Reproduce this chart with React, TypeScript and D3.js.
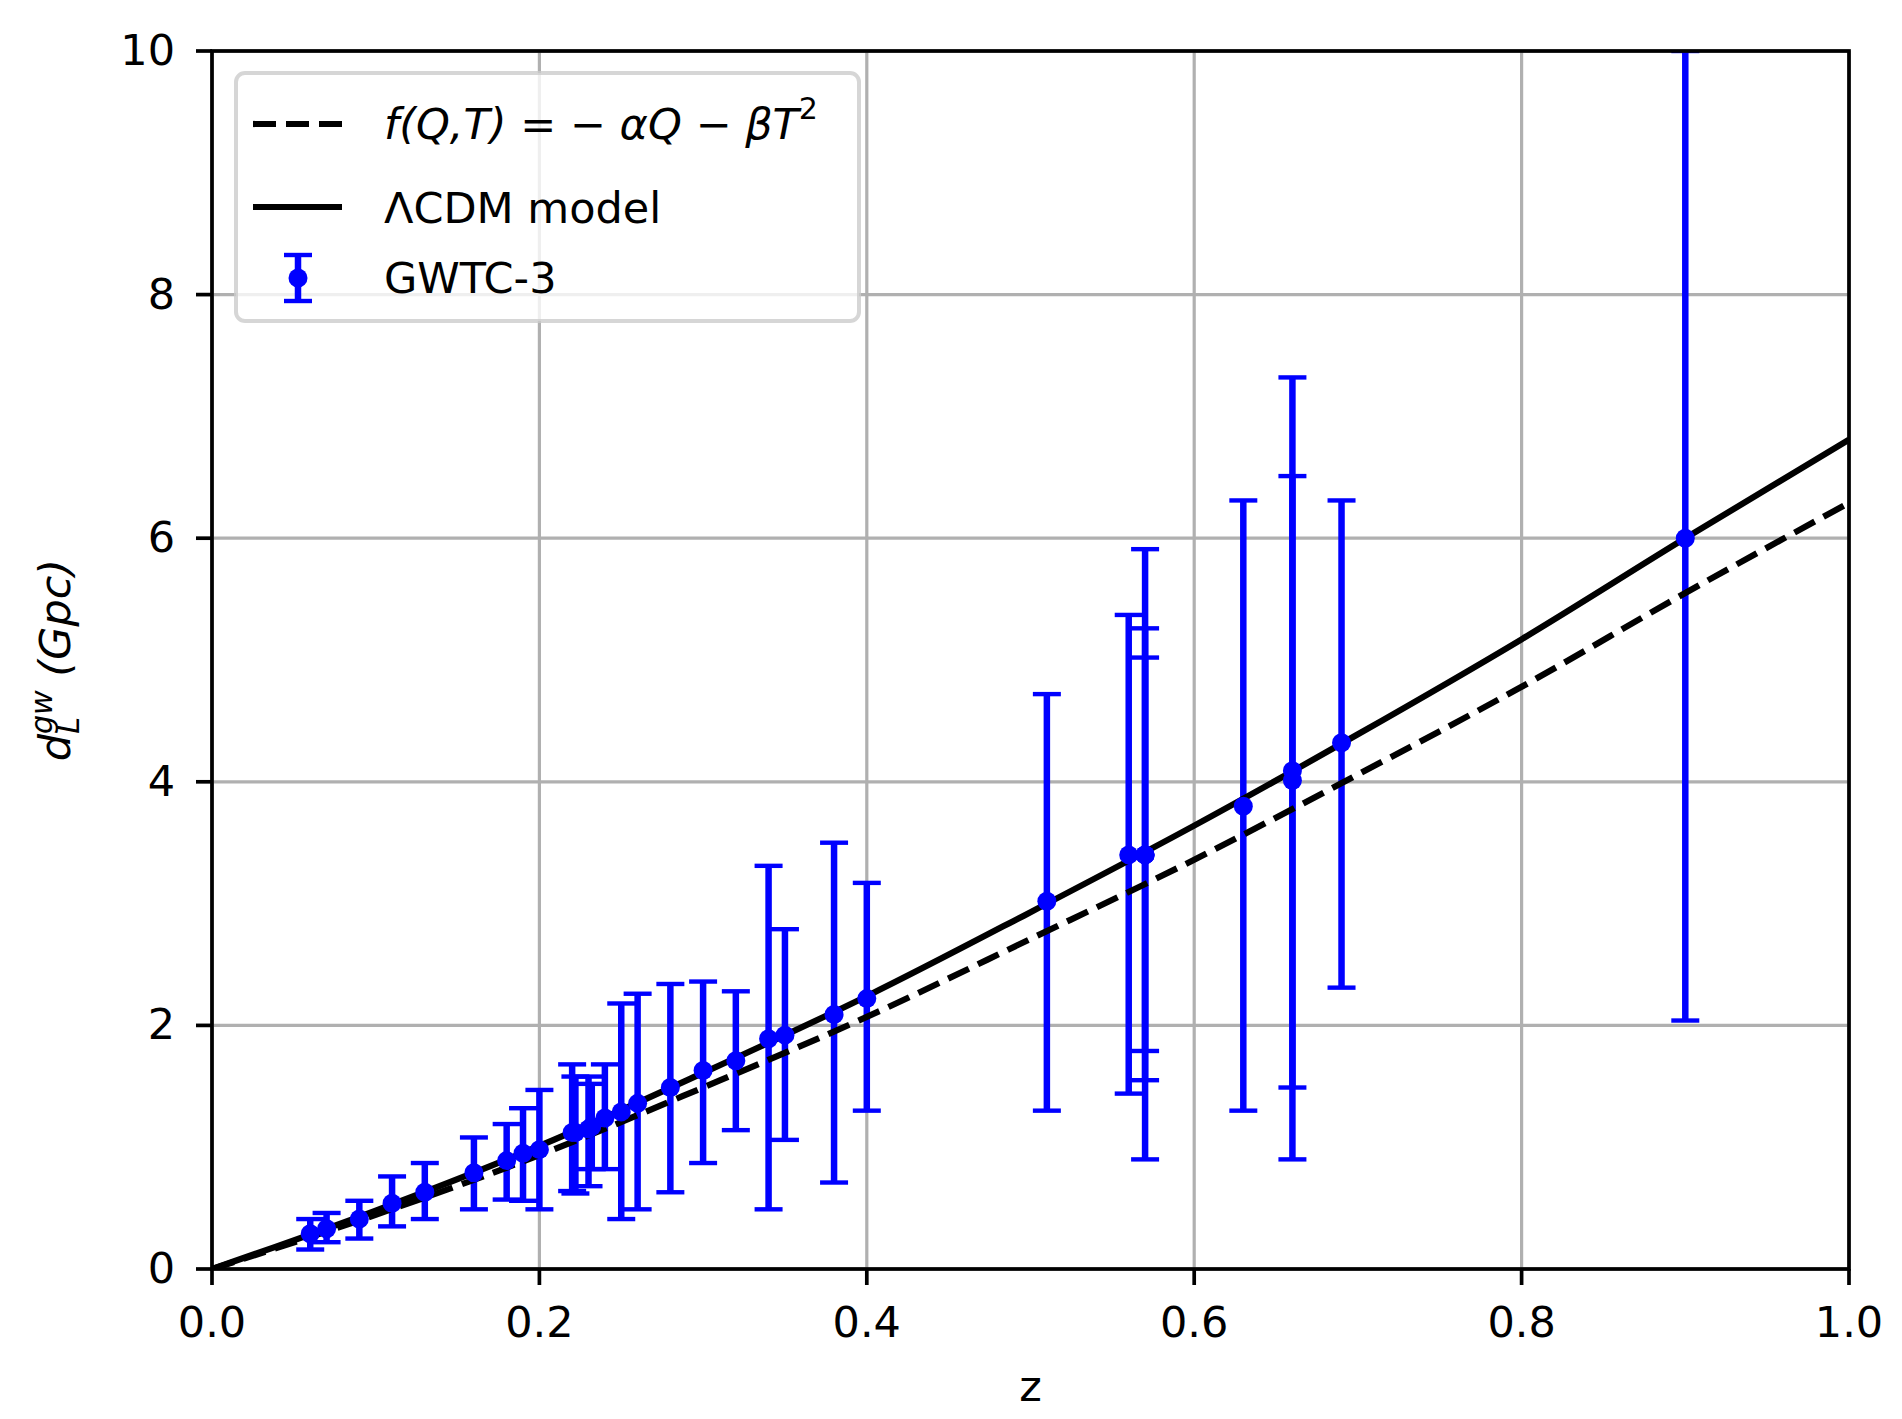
import {useMemo} from 'react'
import * as d3 from 'd3'

const WIDTH = 1902
const HEIGHT = 1419
const MARGIN = {top: 51, right: 53, bottom: 150, left: 212}
const FONT = '"DejaVu Sans", sans-serif'
const FS = 43

// GWTC-3 events: redshift, distance (Gpc) and the lower / upper end of each error bar
const eventZ = [
  0.06, 0.07, 0.09, 0.11, 0.13, 0.16, 0.18, 0.19, 0.2, 0.22, 0.222, 0.23, 0.232, 0.24, 0.25, 0.26, 0.28,
  0.3, 0.32, 0.34, 0.35, 0.38, 0.4, 0.51, 0.56, 0.57, 0.57, 0.57, 0.63, 0.66, 0.66, 0.69, 0.9,
]
const eventDl = [
  0.29, 0.33, 0.41, 0.54, 0.63, 0.79, 0.89, 0.95, 0.98, 1.12, 1.12, 1.15, 1.17, 1.24, 1.29, 1.36, 1.49,
  1.63, 1.71, 1.89, 1.92, 2.09, 2.22, 3.02, 3.4, 3.4, 3.4, 3.4, 3.8, 4.09, 4.01, 4.32, 6.0,
]
const eventLo = [
  0.16, 0.22, 0.25, 0.35, 0.41, 0.49, 0.57, 0.56, 0.49, 0.64, 0.62, 0.68, 0.82, 0.82, 0.41, 0.49, 0.63,
  0.87, 1.14, 0.49, 1.06, 0.71, 1.3, 1.3, 1.44, 0.9, 1.79, 1.55, 1.3, 0.9, 1.49, 2.31, 2.04,
]
const eventHi = [
  0.41, 0.46, 0.56, 0.76, 0.87, 1.08, 1.19, 1.32, 1.47, 1.68, 1.58, 1.58, 1.52, 1.68, 2.18, 2.26, 2.34,
  2.36, 2.28, 3.31, 2.79, 3.5, 3.17, 4.72, 5.37, 5.91, 5.26, 5.02, 6.31, 7.32, 6.51, 6.31, 10.0,
]

// model curves
const modelZ = [0, 0.1, 0.2, 0.3, 0.4, 0.5, 0.6, 0.7, 0.8, 0.9, 1.0]
const lcdmDl = [0, 0.48, 1.01, 1.61, 2.24, 2.93, 3.64, 4.39, 5.17, 6.0, 6.81]
const fqtDl = [0, 0.445, 0.935, 1.49, 2.07, 2.71, 3.36, 4.06, 4.78, 5.55, 6.29]

const xTicks = [0, 0.2, 0.4, 0.6, 0.8, 1.0]
const xTickLabels = ['0.0', '0.2', '0.4', '0.6', '0.8', '1.0']
const yTicks = [0, 2, 4, 6, 8, 10]
const yTickLabels = ['0', '2', '4', '6', '8', '10']

const BLUE = '#0000ff'
const LINE_W = 6.2
const DASH = '23 10'

export default function App() {
  const boundsWidth = WIDTH - MARGIN.left - MARGIN.right
  const boundsHeight = HEIGHT - MARGIN.top - MARGIN.bottom

  const xScale = useMemo(
    () => d3.scaleLinear().domain([0, 1]).range([MARGIN.left, MARGIN.left + boundsWidth]),
    [boundsWidth],
  )
  const yScale = useMemo(
    () => d3.scaleLinear().domain([0, 10]).range([MARGIN.top + boundsHeight, MARGIN.top]),
    [boundsHeight],
  )

  const line = d3
    .line<number>()
    .x((_, i) => xScale(modelZ[i]))
    .y(d => yScale(d))
    .curve(d3.curveMonotoneX)

  const capHalf = 14

  const legendX = 236
  const legendY = 73
  const rows = [124, 207, 277]
  const handleX0 = 253
  const handleX1 = 342
  const textX = 384

  return (
    <svg
      width={WIDTH}
      height={HEIGHT}
      style={{position: 'absolute', left: 0, top: 0, background: '#fff'}}
      fontFamily={FONT}>
      <defs>
        <clipPath id="plot-area">
          <rect x={MARGIN.left} y={MARGIN.top} width={boundsWidth} height={boundsHeight} />
        </clipPath>
      </defs>
      <rect width={WIDTH} height={HEIGHT} fill="#fff" />

      {/* grid */}
      <g stroke="#b0b0b0" strokeWidth={3.2}>
        {xTicks.map(t => (
          <line key={'gx' + t} x1={xScale(t)} x2={xScale(t)} y1={MARGIN.top} y2={MARGIN.top + boundsHeight} />
        ))}
        {yTicks.map(t => (
          <line key={'gy' + t} x1={MARGIN.left} x2={MARGIN.left + boundsWidth} y1={yScale(t)} y2={yScale(t)} />
        ))}
      </g>

      <g clipPath="url(#plot-area)">
        {/* error bars */}
        <g stroke={BLUE}>
          {eventZ.map((z, i) => (
            <g key={i}>
              <line x1={xScale(z)} x2={xScale(z)} y1={yScale(eventLo[i])} y2={yScale(eventHi[i])} strokeWidth={6.5} />
              <line
                x1={xScale(z) - capHalf}
                x2={xScale(z) + capHalf}
                y1={yScale(eventLo[i])}
                y2={yScale(eventLo[i])}
                strokeWidth={4.4}
              />
              <line
                x1={xScale(z) - capHalf}
                x2={xScale(z) + capHalf}
                y1={yScale(eventHi[i])}
                y2={yScale(eventHi[i])}
                strokeWidth={4.4}
              />
            </g>
          ))}
        </g>

        <path d={line(lcdmDl) ?? ''} fill="none" stroke="#000" strokeWidth={LINE_W} />
        <path d={line(fqtDl) ?? ''} fill="none" stroke="#000" strokeWidth={LINE_W} strokeDasharray={DASH} />

        <g fill={BLUE}>
          {eventZ.map((z, i) => (
            <circle key={i} cx={xScale(z)} cy={yScale(eventDl[i])} r={9.5} />
          ))}
        </g>
      </g>

      {/* spines */}
      <rect
        x={MARGIN.left}
        y={MARGIN.top}
        width={boundsWidth}
        height={boundsHeight}
        fill="none"
        stroke="#000"
        strokeWidth={3.7}
      />

      {/* ticks */}
      <g stroke="#000" strokeWidth={3.7}>
        {xTicks.map(t => (
          <line key={'tx' + t} x1={xScale(t)} x2={xScale(t)} y1={MARGIN.top + boundsHeight} y2={MARGIN.top + boundsHeight + 16} />
        ))}
        {yTicks.map(t => (
          <line key={'ty' + t} x1={MARGIN.left - 16} x2={MARGIN.left} y1={yScale(t)} y2={yScale(t)} />
        ))}
      </g>
      <g fontSize={FS} fill="#000">
        {xTicks.map((t, i) => (
          <text key={'lx' + t} x={xScale(t)} y={1337} textAnchor="middle">
            {xTickLabels[i]}
          </text>
        ))}
        {yTicks.map((t, i) => (
          <text key={'ly' + t} x={175} y={yScale(t) + 14} textAnchor="end">
            {yTickLabels[i]}
          </text>
        ))}
      </g>

      {/* axis labels */}
      <text x={MARGIN.left + boundsWidth / 2} y={1401} fontSize={FS} textAnchor="middle">
        z
      </text>
      <g transform={`translate(70, ${MARGIN.top + boundsHeight / 2}) rotate(-90)`}>
        <text x={0} y={0} fontSize={FS} textAnchor="middle" fontStyle="italic">
          <tspan>d</tspan>
          <tspan fontSize={FS * 0.7} dy={9}>
            L
          </tspan>
          <tspan fontSize={FS * 0.7} dx={-17} dy={-27}>
            gw
          </tspan>
          <tspan dy={18}> (Gpc)</tspan>
        </text>
      </g>

      {/* legend */}
      <g>
        <rect
          x={legendX}
          y={legendY}
          width={623}
          height={248}
          rx={9}
          fill="#fff"
          fillOpacity={0.8}
          stroke="#cccccc"
          strokeOpacity={0.8}
          strokeWidth={4}
        />
        <line x1={handleX0} x2={handleX1} y1={rows[0]} y2={rows[0]} stroke="#000" strokeWidth={LINE_W} strokeDasharray={DASH} />
        <line x1={handleX0} x2={handleX1} y1={rows[1]} y2={rows[1]} stroke="#000" strokeWidth={LINE_W} />
        <g stroke={BLUE}>
          <line x1={298} x2={298} y1={255} y2={301} strokeWidth={6.5} />
          <line x1={298 - capHalf} x2={298 + capHalf} y1={255} y2={255} strokeWidth={4.4} />
          <line x1={298 - capHalf} x2={298 + capHalf} y1={301} y2={301} strokeWidth={4.4} />
        </g>
        <circle cx={298} cy={278} r={9.5} fill={BLUE} />
        <text x={textX} y={rows[0] + 15} fontSize={FS}>
          <tspan fontStyle="italic">f</tspan>
          <tspan fontStyle="italic">(Q,T)</tspan>
          <tspan> = − </tspan>
          <tspan fontStyle="italic">αQ</tspan>
          <tspan> − </tspan>
          <tspan fontStyle="italic">βT</tspan>
          <tspan fontSize={FS * 0.7} dy={-20}>
            2
          </tspan>
        </text>
        <text x={textX} y={rows[1] + 16} fontSize={FS}>
          ΛCDM model
        </text>
        <text x={textX} y={rows[2] + 16} fontSize={FS}>
          GWTC-3
        </text>
      </g>
    </svg>
  )
}
